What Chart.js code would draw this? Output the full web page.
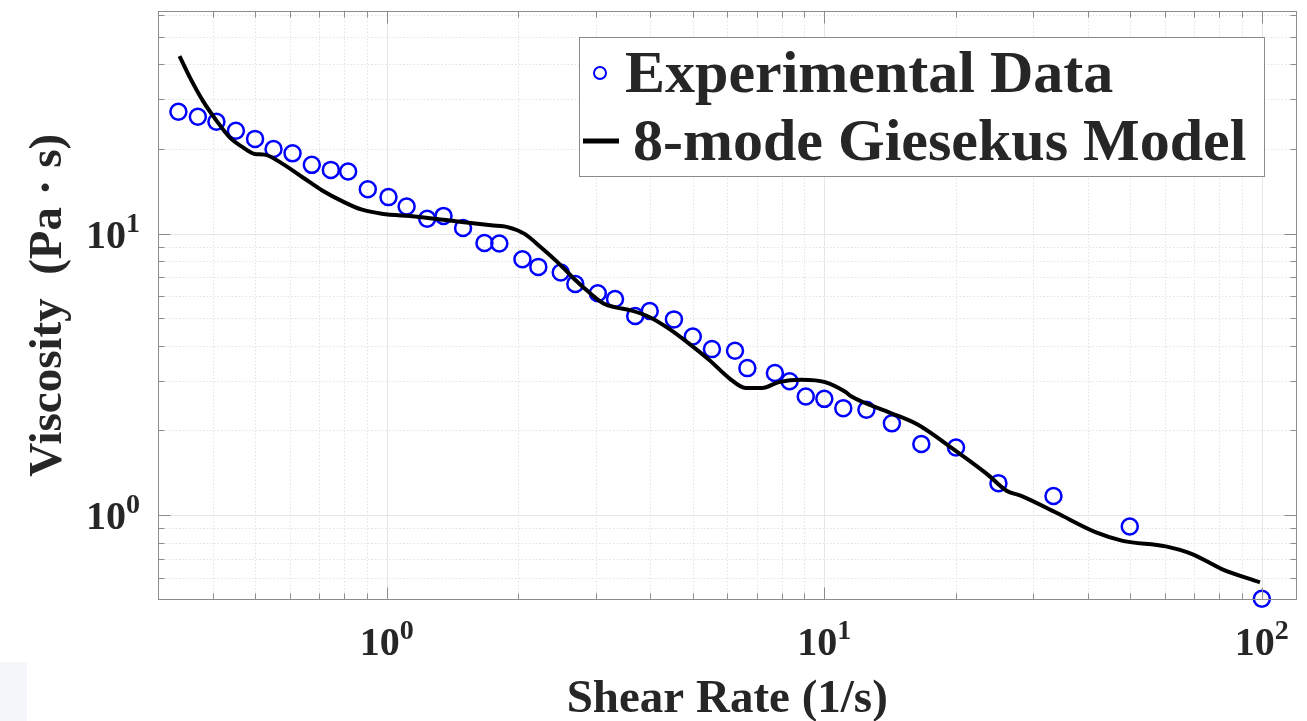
<!DOCTYPE html>
<html>
<head>
<meta charset="utf-8">
<script src="https://cdn.jsdelivr.net/npm/chart.js@4.4.0/dist/chart.umd.min.js"></script>
<style>
  html, body { margin: 0; padding: 0; background: #fff; }
  #chart { display: block; }
</style>
</head>
<body>
<canvas id="chart" width="1307" height="721"></canvas>
<script>
// measured points (shear rate in 1/s, viscosity in Pa.s)
const shearRateExp = [0.334, 0.370, 0.408, 0.452, 0.500, 0.551, 0.609, 0.674, 0.745, 0.816,
  0.905, 1.009, 1.110, 1.237, 1.348, 1.494, 1.672, 1.808, 2.042, 2.220,
  2.498, 2.697, 3.036, 3.324, 3.696, 3.990, 4.532, 5.005, 5.535, 6.25,
  6.67, 7.71, 8.33, 9.07, 10.0, 11.05, 12.48, 14.27, 16.66, 20.0,
  25.0, 33.4, 49.9, 100];
const viscosityExp = [27.1, 26.0, 24.96, 23.2, 21.7, 19.98, 19.28, 17.55, 16.84, 16.61,
  14.38, 13.48, 12.49, 11.30, 11.56, 10.47, 9.26, 9.22, 8.11, 7.62,
  7.28, 6.62, 6.14, 5.86, 5.10, 5.31, 4.96, 4.31, 3.89, 3.84,
  3.33, 3.20, 2.99, 2.64, 2.59, 2.40, 2.37, 2.12, 1.79, 1.74,
  1.30, 1.17, 0.912, 0.505];

// model curve
const shearRateModel = [0.336, 0.355, 0.380, 0.408, 0.4375, 0.469, 0.4985, 0.5253, 0.578, 0.6417,
  0.712, 0.7906, 0.8777, 0.974, 1.16, 1.38, 1.73, 1.888, 2.06, 2.246,
  2.452, 2.675, 2.917, 3.128, 3.353, 3.594, 3.99, 4.43, 4.915, 5.458,
  6.058, 6.61, 7.21, 7.87, 8.89, 10.04, 11.14, 11.54, 13.97, 16.34,
  19.79, 23.55, 26.14, 28.27, 33.93, 41.8, 48.1, 60.3, 69.3, 81.0, 99.0];
const viscosityModel = [42.7, 35.8, 29.6, 25.2, 21.97, 20.24, 19.19, 19.08, 17.69, 15.86,
  14.23, 13.04, 12.16, 11.77, 11.51, 11.15, 10.70, 10.55, 10.0, 8.97,
  7.94, 6.93, 6.14, 5.65, 5.46, 5.35, 5.05, 4.58, 4.06, 3.56,
  3.07, 2.83, 2.83, 2.97, 3.03, 2.97, 2.75, 2.64, 2.33, 2.10,
  1.71, 1.40, 1.22, 1.17, 1.02, 0.869, 0.811, 0.775, 0.728, 0.644, 0.578];

const seriesLabels = ['Experimental Data', '8-mode Giesekus Model'];
const xTickExponents = [0, 1, 2];
const yTickExponents = [0, 1];
const xAxisTitle = 'Shear Rate (1/s)';
const yAxisTitle = 'Viscosity  (Pa \u00b7 s)';

const FONT = '"Liberation Serif", "Times New Roman", serif';
const TEXT_COLOR = '#262626';
const AXIS_COLOR = '#8c8c8c';

function isDecade(v) {
    const l = Math.log10(v);
    return Math.abs(l - Math.round(l)) < 1e-6;
}

// 1..9 x 10^k values inside (min, max)
function logTickValues(min, max) {
    const vals = [];
    for (let e = Math.floor(Math.log10(min)); e <= Math.ceil(Math.log10(max)); e++) {
        for (let m = 1; m < 10; m++) {
            const v = m * Math.pow(10, e);
            if (v > min * 1.001 && v < max * 0.999) vals.push(v);
        }
    }
    return vals;
}

function drawPower(ctx, exp, x, baseline, align) {
    ctx.font = 'bold 40px ' + FONT;
    const wBase = ctx.measureText('10').width;
    ctx.font = 'bold 28px ' + FONT;
    const wExp = ctx.measureText(String(exp)).width;
    const total = wBase + wExp;
    const left = align === 'center' ? x - total / 2 : x - total;
    ctx.textAlign = 'left';
    ctx.textBaseline = 'alphabetic';
    ctx.fillStyle = TEXT_COLOR;
    ctx.font = 'bold 40px ' + FONT;
    ctx.fillText('10', left, baseline);
    ctx.font = 'bold 28px ' + FONT;
    ctx.fillText(String(exp), left + wBase, baseline - 16);
}

const axesPlugin = {
    id: 'matlabAxes',
    beforeDraw(chart) {
        const ctx = chart.ctx;
        ctx.save();
        ctx.fillStyle = '#f4f6fa';
        ctx.fillRect(0, 662, 27, 59);
        ctx.restore();
    },
    beforeDatasetsDraw(chart) {
        const { ctx, chartArea: a, scales: { x, y } } = chart;
        ctx.save();
        ctx.lineWidth = 1;
        const xs = logTickValues(x.min, x.max);
        const ys = logTickValues(y.min, y.max);

        // minor grid, dotted
        ctx.strokeStyle = '#e2e2e2';
        ctx.setLineDash([1.5, 2]);
        xs.filter(v => !isDecade(v)).forEach(v => {
            const px = Math.round(x.getPixelForValue(v)) + 0.5;
            ctx.beginPath(); ctx.moveTo(px, a.top); ctx.lineTo(px, a.bottom); ctx.stroke();
        });
        ys.filter(v => !isDecade(v)).forEach(v => {
            const py = Math.round(y.getPixelForValue(v)) + 0.5;
            ctx.beginPath(); ctx.moveTo(a.left, py); ctx.lineTo(a.right, py); ctx.stroke();
        });

        // major grid, solid
        ctx.setLineDash([]);
        ctx.strokeStyle = '#e6e6e6';
        xs.filter(isDecade).forEach(v => {
            const px = Math.round(x.getPixelForValue(v)) + 0.5;
            ctx.beginPath(); ctx.moveTo(px, a.top); ctx.lineTo(px, a.bottom); ctx.stroke();
        });
        ys.filter(isDecade).forEach(v => {
            const py = Math.round(y.getPixelForValue(v)) + 0.5;
            ctx.beginPath(); ctx.moveTo(a.left, py); ctx.lineTo(a.right, py); ctx.stroke();
        });
        ctx.restore();
    },
    afterDatasetsDraw(chart) {
        const { ctx, chartArea: a, scales: { x, y } } = chart;
        ctx.save();
        ctx.strokeStyle = AXIS_COLOR;
        ctx.lineWidth = 1;
        const L = Math.round(a.left) + 0.5, R = Math.round(a.right) - 0.5;
        const T = Math.round(a.top) + 0.5, B = Math.round(a.bottom) - 0.5;
        ctx.strokeRect(L, T, R - L, B - T);

        // inward ticks on all four sides
        logTickValues(x.min, x.max).forEach(v => {
            const len = isDecade(v) ? 12 : 6;
            const px = Math.round(x.getPixelForValue(v)) + 0.5;
            ctx.beginPath();
            ctx.moveTo(px, B); ctx.lineTo(px, B - len);
            ctx.moveTo(px, T); ctx.lineTo(px, T + len);
            ctx.stroke();
        });
        logTickValues(y.min, y.max).forEach(v => {
            const len = isDecade(v) ? 12 : 6;
            const py = Math.round(y.getPixelForValue(v)) + 0.5;
            ctx.beginPath();
            ctx.moveTo(L, py); ctx.lineTo(L + len, py);
            ctx.moveTo(R, py); ctx.lineTo(R - len, py);
            ctx.stroke();
        });
        ctx.restore();
    },
    afterDraw(chart) {
        const { ctx, chartArea: a, scales: { x, y } } = chart;
        ctx.save();

        // tick labels
        xTickExponents.forEach(e => {
            drawPower(ctx, e, x.getPixelForValue(Math.pow(10, e)), a.bottom + 55, 'center');
        });
        yTickExponents.forEach(e => {
            drawPower(ctx, e, a.left - 18, y.getPixelForValue(Math.pow(10, e)) + 14, 'right');
        });

        // axis titles
        ctx.fillStyle = TEXT_COLOR;
        ctx.font = 'bold 47px ' + FONT;
        ctx.textAlign = 'center';
        ctx.textBaseline = 'alphabetic';
        ctx.fillText(xAxisTitle, (a.left + a.right) / 2, 712);
        ctx.save();
        ctx.translate(61, (a.top + a.bottom) / 2);
        ctx.rotate(-Math.PI / 2);
        ctx.fillText(yAxisTitle, 0, 0);
        ctx.restore();

        // legend box
        const bx = 579.5, by = 37.5, bw = 685, bh = 139;
        ctx.fillStyle = '#ffffff';
        ctx.fillRect(bx, by, bw, bh);
        ctx.strokeStyle = '#8a8a8a';
        ctx.lineWidth = 1;
        ctx.strokeRect(bx, by, bw, bh);

        ctx.strokeStyle = '#0000ff';
        ctx.lineWidth = 2;
        ctx.beginPath();
        ctx.arc(600, 73, 6, 0, Math.PI * 2);
        ctx.stroke();

        ctx.strokeStyle = '#000000';
        ctx.lineWidth = 5;
        ctx.beginPath();
        ctx.moveTo(583, 141);
        ctx.lineTo(619, 141);
        ctx.stroke();

        ctx.fillStyle = TEXT_COLOR;
        ctx.font = 'bold 60px ' + FONT;
        ctx.textAlign = 'left';
        ctx.fillText(seriesLabels[0], 625, 92);
        ctx.fillText(seriesLabels[1], 633, 160);
        ctx.restore();
    }
};

new Chart(document.getElementById('chart'), {
    type: 'scatter',
    data: {
        datasets: [
            {
                label: seriesLabels[1],
                type: 'line',
                data: shearRateModel.map((v, i) => ({ x: v, y: viscosityModel[i] })),
                borderColor: '#000000',
                borderWidth: 4,
                pointRadius: 0,
                fill: false,
                cubicInterpolationMode: 'monotone',
                borderJoinStyle: 'round',
                order: 0,
                clip: false
            },
            {
                label: seriesLabels[0],
                data: shearRateExp.map((v, i) => ({ x: v, y: viscosityExp[i] })),
                pointStyle: 'circle',
                pointRadius: 8,
                pointBorderWidth: 2.5,
                borderColor: '#0000ff',
                backgroundColor: 'rgba(0,0,0,0)',
                order: 1,
                clip: false
            }
        ]
    },
    options: {
        responsive: false,
        animation: false,
        devicePixelRatio: 1,
        layout: { padding: { left: 158, right: 4, top: 9, bottom: 121 } },
        scales: {
            x: { type: 'logarithmic', min: 0.3, max: 120, display: false },
            y: { type: 'logarithmic', min: 0.5, max: 62, display: false }
        },
        plugins: {
            legend: { display: false },
            tooltip: { enabled: false }
        }
    },
    plugins: [axesPlugin]
});
</script>
</body>
</html>
